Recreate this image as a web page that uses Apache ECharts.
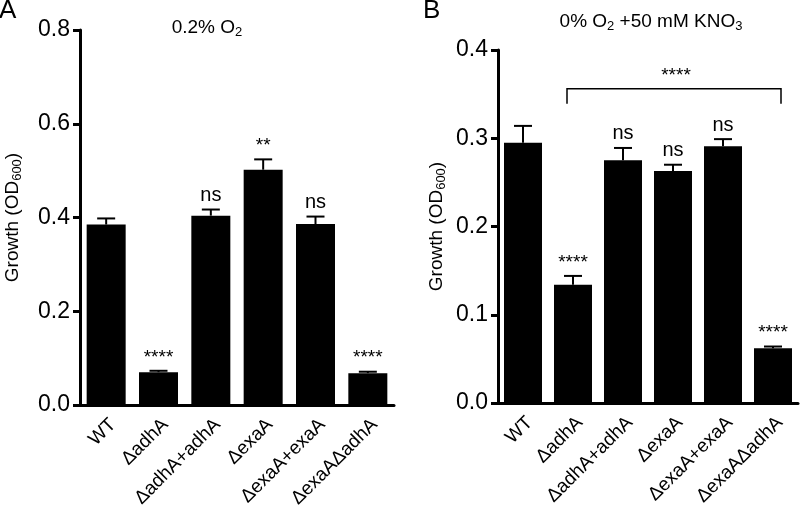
<!DOCTYPE html>
<html>
<head>
<meta charset="utf-8">
<script src="https://cdn.jsdelivr.net/npm/echarts@6/dist/echarts.min.js"></script>
<style>
html,body{margin:0;padding:0;background:#fff;}
#chart{width:800px;height:514px;}
</style>
</head>
<body>
<div id="chart"></div>
<script>
// ---- data ----
var categories = ['WT', '\u0394adhA', '\u0394adhA+adhA', '\u0394exaA', '\u0394exaA+exaA', '\u0394exaA\u0394adhA'];
var growthA = [0.385, 0.070, 0.404, 0.502, 0.386, 0.068];
var errA    = [0.013, 0.003, 0.013, 0.022, 0.016, 0.003];
var sigA    = ['', '****', 'ns', '**', 'ns', '****'];
var growthB = [0.295, 0.134, 0.275, 0.263, 0.291, 0.062];
var errB    = [0.019, 0.010, 0.014, 0.007, 0.008, 0.002];
var sigB    = ['', '****', 'ns', 'ns', 'ns', '****'];
var yTicksA = [0, 0.2, 0.4, 0.6, 0.8];
var yTicksB = [0, 0.1, 0.2, 0.3, 0.4];
var bracketB = {from: 1, to: 5, level: 0.356, leg: 0.339, label: '****'};

var FONT = 'Arial, "Liberation Sans", Helvetica, sans-serif';
var chart = echarts.init(document.getElementById('chart'));

function xAxisCfg(gi) {
  return {
    type: 'category', gridIndex: gi, data: categories,
    axisLine: {lineStyle: {color: '#000', width: 3}},
    axisTick: {alignWithLabel: true, length: 7, lineStyle: {color: '#000', width: 3}},
    axisLabel: {rotate: 45, color: '#000', fontSize: 19, fontFamily: FONT, margin: 10, interval: 0,
      verticalAlign: 'top'}
  };
}
function yAxisCfg(gi, ticks, gap) {
  return {
    type: 'value', gridIndex: gi, min: ticks[0], max: ticks[ticks.length - 1],
    interval: ticks[1] - ticks[0],
    axisLine: {show: true, lineStyle: {color: '#000', width: 3}},
    axisTick: {show: true, length: 7, lineStyle: {color: '#000', width: 3}},
    splitLine: {show: false},
    axisLabel: {color: '#000', fontSize: 23, fontFamily: FONT, margin: 10,
      formatter: function (v) { return v.toFixed(1); }},
    name: '{a|Growth (OD}{s|600}{a|)}',
    nameLocation: 'middle', nameRotate: 90, nameGap: gap,
    nameTextStyle: {rich: {
      a: {fontSize: 19, fontFamily: FONT, color: '#000'},
      s: {fontSize: 13, fontFamily: FONT, color: '#000', padding: [0, 0, -9, 0]}
    }}
  };
}

function errSeries(gi, vals, errs, sigs) {
  return {
    type: 'custom', xAxisIndex: gi, yAxisIndex: gi, z: 5,
    data: vals.map(function (v, i) { return [i, v, errs[i]]; }),
    renderItem: function (params, api) {
      var i = api.value(0), v = api.value(1), e = api.value(2);
      var sig = sigs[i];
      var p0 = api.coord([i, v]);
      var p1 = api.coord([i, v + e]);
      var hw = 9;
      var children = [
        {type: 'line', shape: {x1: p0[0], y1: p0[1], x2: p1[0], y2: p1[1]}, style: {stroke: '#000', lineWidth: 2}},
        {type: 'line', shape: {x1: p1[0] - hw, y1: p1[1], x2: p1[0] + hw, y2: p1[1]}, style: {stroke: '#000', lineWidth: 2}}
      ];
      if (sig) {
        children.push({type: 'text', style: {text: sig, x: p1[0], y: p1[1] - 4, align: 'center', verticalAlign: 'bottom',
          fontSize: sig === 'ns' ? 20 : 19, fontFamily: FONT, fill: '#000'}});
      }
      return {type: 'group', children: children};
    }
  };
}

var option = {
  animation: false,
  backgroundColor: '#fff',
  grid: [
    {left: 80, top: 30, width: 314, height: 375},
    {left: 498, top: 50, width: 300, height: 353}
  ],
  xAxis: [xAxisCfg(0), xAxisCfg(1)],
  yAxis: [yAxisCfg(0, yTicksA, 58), yAxisCfg(1, yTicksB, 52)],
  graphic: [
    {type: 'text', left: -1, top: -2, style: {text: 'A', fontSize: 26, fontFamily: FONT, fill: '#000'}},
    {type: 'text', left: 423, top: -2, style: {text: 'B', fontSize: 26, fontFamily: FONT, fill: '#000'}},
    {type: 'text', x: 207, y: 28, style: {text: '{a|0.2% O}{s|2}', align: 'center', verticalAlign: 'middle',
      rich: {a: {fontSize: 19, fontFamily: FONT, color: '#000'},
             s: {fontSize: 13, fontFamily: FONT, color: '#000', padding: [0, 0, -9, 0]}}}},
    {type: 'text', x: 651, y: 22, style: {text: '{a|0% O}{s|2}{a| +50 mM KNO}{s|3}', align: 'center', verticalAlign: 'middle',
      rich: {a: {fontSize: 19, fontFamily: FONT, color: '#000'},
             s: {fontSize: 13, fontFamily: FONT, color: '#000', padding: [0, 0, -9, 0]}}}}
  ],
  series: [
    {type: 'bar', xAxisIndex: 0, yAxisIndex: 0, data: growthA, barWidth: 39, itemStyle: {color: '#000'}},
    errSeries(0, growthA, errA, sigA),
    {type: 'bar', xAxisIndex: 1, yAxisIndex: 1, data: growthB, barWidth: 38, itemStyle: {color: '#000'}},
    errSeries(1, growthB, errB, sigB),
    {
      type: 'custom', xAxisIndex: 1, yAxisIndex: 1, z: 6,
      data: [[bracketB.from, bracketB.to, bracketB.level, bracketB.leg]],
      renderItem: function (params, api) {
        var a = api.coord([api.value(0), api.value(2)]);
        var b = api.coord([api.value(1), api.value(2)]);
        var la = api.coord([api.value(0), api.value(3)]);
        var x1 = a[0] - 6, x2 = b[0] + 8;
        return {type: 'group', children: [
          {type: 'polyline', shape: {points: [[x1, la[1]], [x1, a[1]], [x2, a[1]], [x2, la[1]]]},
            style: {stroke: '#000', lineWidth: 1.5, fill: null}},
          {type: 'text', style: {text: bracketB.label, x: (a[0] + b[0]) / 2 + 3, y: a[1] - 4, align: 'center', verticalAlign: 'bottom',
            fontSize: 19, fontFamily: FONT, fill: '#000'}}
        ]};
      }
    }
  ]
};
chart.setOption(option);
</script>
</body>
</html>
